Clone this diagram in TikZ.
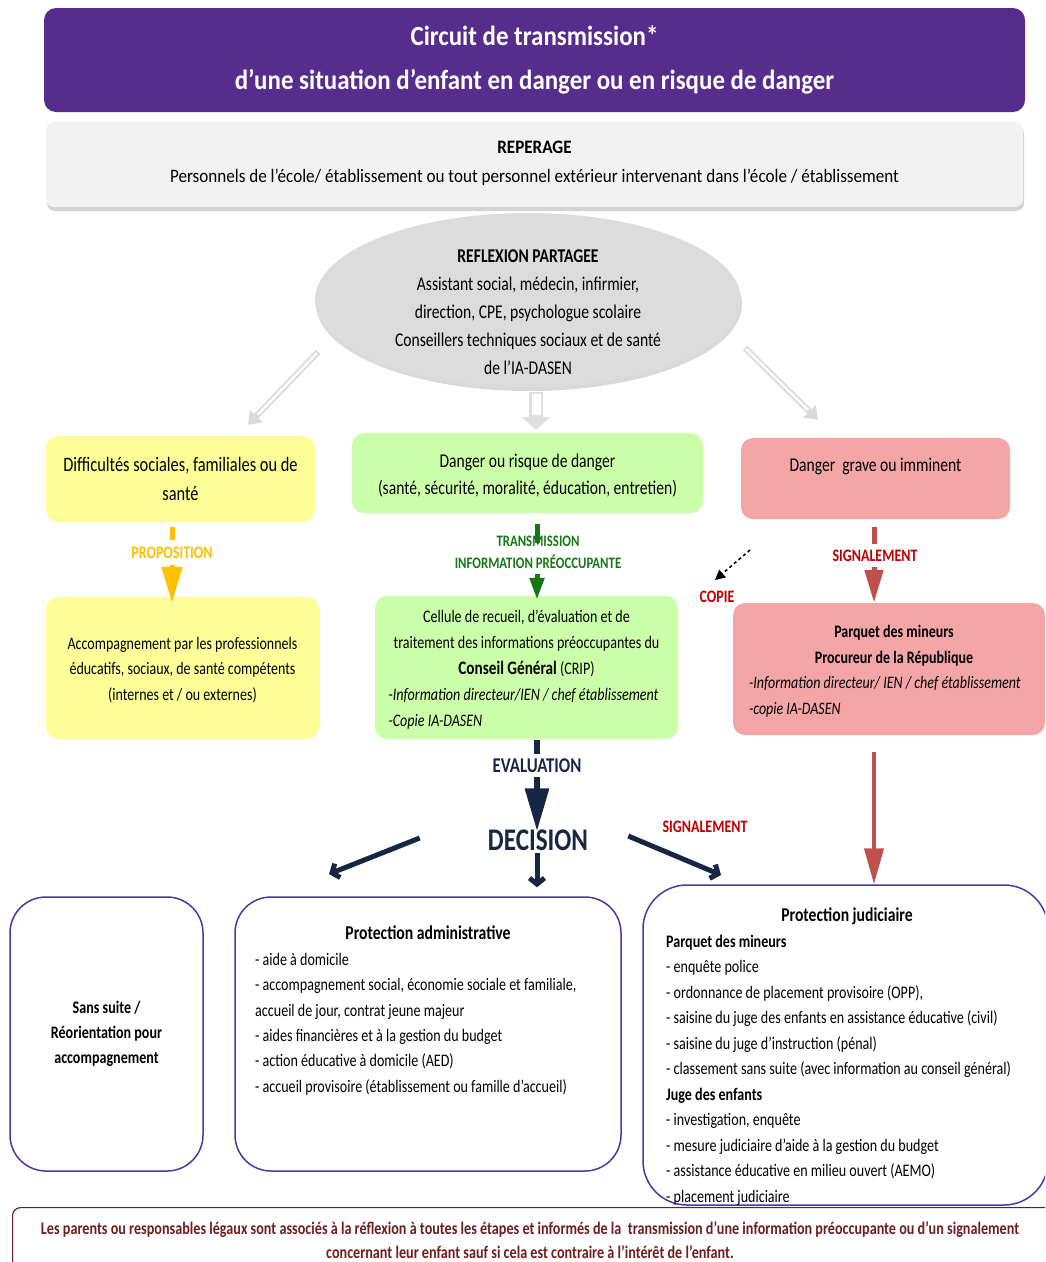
\documentclass[tikz,border=0pt]{standalone}
\usepackage{fontspec}
\setmainfont{Carlito}[FakeStretch=0.8]
\newfontfamily\widefont{Carlito}[FakeStretch=0.9]
\usetikzlibrary{arrows.meta,shapes.geometric,shadows,backgrounds}
\definecolor{titlepurple}{RGB}{86,45,140}
\definecolor{repgray}{RGB}{242,242,242}
\definecolor{ellgray}{RGB}{220,220,220}
\definecolor{yel}{RGB}{255,255,153}
\definecolor{grn}{RGB}{204,255,170}
\definecolor{rdf}{RGB}{244,166,166}
\definecolor{propo}{RGB}{255,192,0}
\definecolor{trgreen}{RGB}{20,120,20}
\definecolor{sigred}{RGB}{192,0,0}
\definecolor{redarrow}{RGB}{192,80,77}
\definecolor{navy}{RGB}{23,38,66}
\definecolor{outl}{RGB}{72,58,165}
\definecolor{footred}{RGB}{110,30,30}
\newcommand\myfs[2]{\fontsize{#1}{#2}\selectfont}
\begin{document}
\begin{tikzpicture}[x=1pt,y=-1pt,
  titlebox/.style={fill=titlepurple, rounded corners=12pt, text=white, align=center, font=\widefont\myfs{27.7}{44}\bfseries},
  repbox/.style={fill=repgray, rounded corners=8pt, drop shadow={shadow xshift=1pt, shadow yshift=-4pt, opacity=0.35}},
  ybox/.style={fill=yel, rounded corners=12pt, align=center, font=\myfs{20.5}{29}},
  gbox/.style={fill=grn, rounded corners=12pt, align=center, font=\myfs{19.5}{27}},
  rbox/.style={fill=rdf, rounded corners=12pt, align=center, font=\myfs{19.5}{28}},
  obox/.style={draw=outl, line width=1.5pt, rounded corners=36pt, fill=white},
  lab/.style={inner sep=1pt, align=center, font=\myfs{17.5}{22}\bfseries},
  grayarr/.style={draw=gray!30, line width=6pt, -{Triangle[length=12pt,width=17pt]}},
  grayin/.style={draw=white, line width=2.5pt, shorten >=14pt, shorten <=1.5pt},
  navyarr/.style={draw=navy, line width=5pt, -{Straight Barb[length=6pt,width=15pt]}}
]
\useasboundingbox (0,0) rectangle (1045,1262);
\clip (0,0) rectangle (1045,1262);

% title and reperage
\node[titlebox, minimum width=981pt, minimum height=104pt] (title) at (534.5,60)
  {Circuit de transmission*\\d’une situation d’enfant en danger ou en risque de danger};
\node[repbox, minimum width=977pt, minimum height=85pt] (rep) at (534.5,164.5) {};
\node[align=center, font=\widefont\myfs{19}{29}] (reptext) at (534.5,163.5)
  {{\bfseries REPERAGE}\\Personnels de l’école/ établissement ou tout personnel extérieur intervenant dans l’école / établissement};

% ellipse
\node[ellipse, fill=ellgray, minimum width=426pt, minimum height=174pt,
  drop shadow={shadow xshift=1pt, shadow yshift=-4pt, opacity=0.3}] (ell) at (528,300) {};
\node[align=center, font=\myfs{19.5}{28}] (elltext) at (528,312)
  {{\bfseries REFLEXION PARTAGEE}\\Assistant social, médecin, infirmier,\\direction, CPE, psychologue scolaire\\Conseillers techniques sociaux et de santé\\de l’IA-DASEN};

% row 1
\node[ybox, minimum width=269pt, minimum height=86pt] (yb1) at (180.5,479)
  {Difficultés sociales, familiales ou de\\santé};
\node[gbox, minimum width=351pt, minimum height=80pt] (gb1) at (527.5,473) {};
\node[align=center, font=\myfs{19.5}{27}] (gb1t) at (527.5,476)
  {Danger ou risque de danger\\(santé, sécurité, moralité, éducation, entretien)};
\node[rbox, minimum width=269pt, minimum height=81pt] (rb1) at (875.5,478.5)
  {Danger~~grave ou imminent\\\mbox{}};

% gray arrows from ellipse
\draw[grayarr] ([shift={(-210,52)}]ell.center) -- ([shift={(67.5,-11)}]yb1.north);
\draw[grayin] ([shift={(-210,52)}]ell.center) -- ([shift={(67.5,-11)}]yb1.north);
\draw[grayarr] ([shift={(217,48)}]ell.center) -- ([shift={(-57.5,-18)}]rb1.north);
\draw[grayin] ([shift={(217,48)}]ell.center) -- ([shift={(-57.5,-18)}]rb1.north);
\draw[draw=gray!25, line width=14pt, -{Triangle[length=13pt,width=29pt]}] ([shift={(8,5)}]ell.south) -- ([shift={(8.5,-3)}]gb1.north);
\draw[draw=white, line width=9pt, shorten >=15pt, shorten <=2pt] ([shift={(8,5)}]ell.south) -- ([shift={(8.5,-3)}]gb1.north);

% row 2
\node[ybox, minimum width=273pt, minimum height=142pt] (ya2) at (182.5,668) {};
\node[align=center, font=\myfs{17.5}{25.5}] (ya2t) at (182.5,670)
  {Accompagnement par les professionnels\\éducatifs, sociaux, de santé compétents\\(internes et / ou externes)};
\node[gbox, minimum width=303pt, minimum height=143pt] (gc2) at (526.5,667.5) {};
\node (gc2t) at (526.5,669.5)
  {\begin{minipage}{276pt}\myfs{17.6}{26}\centering Cellule de recueil, d’évaluation et de\\traitement des informations préoccupantes du\\{\myfs{19}{26}\bfseries Conseil Général} (CRIP)\par
   \raggedright\itshape -Information directeur/IEN / chef établissement\\-Copie IA-DASEN\end{minipage}};
\node[rbox, minimum width=312pt, minimum height=132pt] (rb2) at (889,669) {};
\node (rb2t) at (894,671.5)
  {\begin{minipage}{290pt}\myfs{17.5}{25.5}\centering\bfseries Parquet des mineurs\\Procureur de la République\par
   \raggedright\mdseries\itshape -Information directeur/ IEN / chef établissement\\-copie IA-DASEN\end{minipage}};

% labels between rows
\node[lab, text=propo] (prop) at (172,553) {PROPOSITION};
\node[lab, text=trgreen, font=\myfs{16}{22}\bfseries] (trans) at (538,552) {TRANSMISSION\\INFORMATION PRÉOCCUPANTE};
\node[lab, text=sigred] (sig1) at (875,556) {SIGNALEMENT};
\node[lab, text=sigred] (copie) at (717,597) {COPIE};
\coordinate (copystart) at (750,550);

\begin{scope}[on background layer]
\draw[propo, line width=5pt] ([shift={(-8.5,5)}]yb1.south) -- ([shift={(0,-6)}]prop.north);
\draw[trgreen, line width=5pt] ([shift={(9.5,11)}]gb1.south) -- ([shift={(-1,8)}]trans.north);
\draw[redarrow, line width=5pt] ([shift={(-1.5,8)}]rb1.south) -- ([shift={(-1,-5)}]sig1.north);
\end{scope}
\draw[propo, line width=5pt, -{Triangle[length=36pt,width=20pt]}] ([shift={(0,5)}]prop.south) -- ([shift={(-10.5,6)}]ya2.north);
\draw[trgreen, line width=5pt, -{Triangle[length=22pt,width=14pt]}] ([shift={(-1,4)}]trans.south) -- ([shift={(10.5,4)}]gc2.north);
\draw[redarrow, line width=5pt, -{Triangle[length=33pt,width=18pt]}] ([shift={(-1,4)}]sig1.south) -- ([shift={(-15,0)}]rb2.north);
\draw[dashed, line width=1.6pt, -{Triangle[length=10pt,width=10pt]}] (copystart) -- ([shift={(-2,-10)}]copie.north);

% evaluation / decision
\node[font=\myfs{21}{24}\bfseries, text=navy, inner sep=1pt] (eval) at (537,766) {EVALUATION};
\node[font=\myfs{31.5}{36}\bfseries, text=navy, inner sep=0pt] (dec) at (538,840) {DECISION};
\node[lab, text=sigred] (sig2) at (705,827) {SIGNALEMENT};
\draw[navy, line width=6pt] ([shift={(10.5,1)}]gc2.south) -- ([shift={(0,-4)}]eval.north);
\draw[navy, line width=6pt, -{Triangle[length=43pt,width=23pt]}] ([shift={(0,3)}]eval.south) -- ([shift={(-1,2)}]dec.north);

% bottom boxes
\node[obox, minimum width=193pt, minimum height=274pt, align=center, font=\myfs{17.6}{25}\bfseries] (sa) at (106.5,1034)
  {Sans suite /\\Réorientation pour\\accompagnement};
\node[obox, minimum width=386pt, minimum height=274pt] (pb) at (428,1034) {};
\node[font=\myfs{19.6}{25}\bfseries] (pbt) at (428,933) {Protection administrative};
\node[anchor=west, align=left, font=\myfs{17.6}{25.4}, inner sep=0pt] (pbl) at (255,1024)
  {- aide à domicile\\- accompagnement social, économie sociale et familiale,\\accueil de jour, contrat jeune majeur\\- aides financières et à la gestion du budget\\- action éducative à domicile (AED)\\- accueil provisoire (établissement ou famille d’accueil)};
\node[obox, minimum width=405pt, minimum height=320pt, rounded corners=44pt] (pj) at (845.5,1045) {};
\node[font=\myfs{19.6}{25}\bfseries] (pjt) at (847,916) {Protection judiciaire};
\node[anchor=west, align=left, font=\myfs{17.6}{25.5}, inner sep=0pt] (pjl) at (666,1070)
  {{\bfseries Parquet des mineurs}\\- enquête police\\- ordonnance de placement provisoire (OPP),\\- saisine du juge des enfants en assistance éducative (civil)\\- saisine du juge d’instruction (pénal)\\- classement sans suite (avec information au conseil général)\\{\bfseries Juge des enfants}\\- investigation, enquête\\- mesure judiciaire d’aide à la gestion du budget\\- assistance éducative en milieu ouvert (AEMO)\\- placement judiciaire};

% decision arrows
\coordinate (decL) at (329,874);
\coordinate (decR) at (721,875);
\draw[navyarr] ([shift={(-68,-2)}]dec.west) -- (decL);
\draw[navyarr] ([shift={(40,-4)}]dec.east) -- (decR);
\draw[navyarr] ([shift={(-1,2)}]dec.south) -- ([shift={(109,-9)}]pb.north);

% red long arrow
\draw[redarrow, line width=4pt, -{Triangle[length=36pt,width=19pt]}] ([shift={(-15,17)}]rb2.south) -- ([shift={(28.5,0)}]pj.north);

% footer
\node[draw=footred, line width=1.2pt, rounded corners=8pt, minimum width=1060pt, minimum height=75pt, anchor=north west] (foot) at (12,1207) {};
\node[align=center, text=footred, font=\myfs{17.7}{24}\bfseries] (foottext) at (530,1240)
  {Les parents ou responsables légaux sont associés à la réflexion à toutes les étapes et informés de la~ transmission d’une information préoccupante ou d’un signalement\\concernant leur enfant sauf si cela est contraire à l’intérêt de l’enfant.};
\end{tikzpicture}
\end{document}
